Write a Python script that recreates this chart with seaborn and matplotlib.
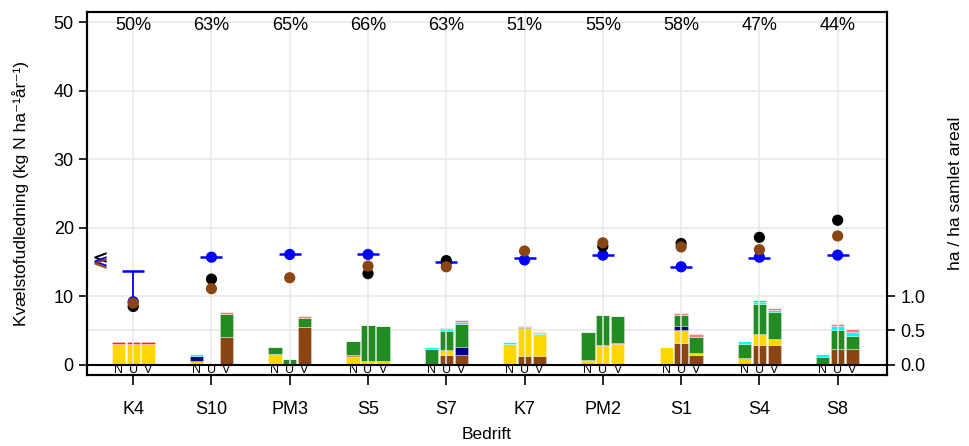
import numpy as np
import pandas as pd
import seaborn as sns
import matplotlib
matplotlib.use('Agg')
import matplotlib.pyplot as plt

# Farms and the three bars per farm
farms = ['K4', 'S10', 'PM3', 'S5', 'S7', 'K7', 'PM2', 'S1', 'S4', 'S8']
subcats = ['N', 'U', 'V']
shares = ['50%', '63%', '65%', '66%', '63%', '51%', '55%', '58%', '47%', '44%']

# Stacked bar layers (ha / ha samlet areal), order: farm x (N, U, V)
brown_layer = [0, 0, 0,  0, 0, 0.40,  0, 0, 0.55,  0, 0, 0,  0, 0.145, 0.145,
               0, 0.13, 0.13,  0, 0, 0,  0, 0.315, 0.145,  0, 0.29, 0.29,  0, 0.235, 0.235]
yellow_layer = [0.30, 0.30, 0.30,  0.05, 0, 0,  0.15, 0, 0,  0.12, 0.06, 0.06,  0, 0.07, 0,
                0.305, 0.40, 0.315,  0.06, 0.28, 0.30,  0.26, 0.185, 0.02,  0.10, 0.165, 0.09,  0, 0, 0]
pink_layer = [0, 0, 0,  0, 0, 0,  0.01, 0, 0,  0.02, 0, 0,  0, 0, 0,
              0, 0, 0,  0.01, 0.015, 0.015,  0, 0, 0,  0, 0, 0,  0, 0, 0]
navy_layer = [0, 0, 0,  0.08, 0, 0,  0, 0, 0,  0, 0, 0,  0, 0, 0.107,
              0, 0, 0,  0, 0, 0,  0, 0.06, 0,  0, 0, 0,  0, 0, 0]
green_layer = [0, 0, 0,  0, 0, 0.34,  0.10, 0.08, 0.135,  0.20, 0.525, 0.51,  0.23, 0.28, 0.345,
               0, 0.02, 0.01,  0.41, 0.43, 0.40,  0, 0.16, 0.245,  0.20, 0.43, 0.385,  0.115, 0.27, 0.19]
cyan_layer = [0, 0, 0,  0.03, 0.01, 0,  0, 0, 0,  0, 0, 0,  0.025, 0.02, 0.025,
              0.025, 0, 0.01,  0, 0, 0,  0, 0, 0,  0.04, 0.035, 0.04,  0.04, 0.06, 0.055]
spring_layer = [0, 0, 0,  0, 0, 0,  0, 0, 0,  0, 0, 0,  0, 0, 0,
                0, 0, 0,  0, 0, 0,  0, 0, 0,  0, 0.02, 0,  0, 0, 0]
salmon_layer = [0, 0, 0,  0, 0, 0.03,  0, 0, 0.03,  0, 0, 0,  0, 0.02, 0.025,
                0, 0.02, 0.02,  0, 0, 0,  0, 0.035, 0.035,  0, 0, 0.02,  0, 0.025, 0.035]
red_layer = [0.025, 0.025, 0.025,  0, 0, 0,  0, 0, 0,  0, 0, 0,  0, 0, 0,
             0, 0, 0,  0, 0, 0,  0, 0, 0,  0, 0, 0,  0, 0, 0]

# Point values (kg N / ha / yr)
black_pts = [8.5, 12.5, np.nan, 13.3, 15.2, np.nan, 17.3, 17.7, 18.6, 21.1]
brown_pts = [9.0, 11.1, 12.7, 14.4, 14.3, 16.6, 17.8, 17.2, 16.8, 18.8]
blue_pts = [9.2, 15.7, 16.1, 16.1, 14.9, 15.3, 16.0, 14.3, 15.7, 16.0]
blue_dash = [13.7, 15.8, 16.1, 16.1, 15.0, 15.6, 16.0, 14.3, 15.6, 16.0]

# off-scale chevrons on the left edge
chevron_y = [15.7, 15.2, 14.9]
chevron_cols = ['black', 'blue', '#8B4513']

layers = [
    (brown_layer, '#8B4513'),
    (yellow_layer, '#FFD700'),
    (pink_layer, '#F08080'),
    (navy_layer, '#00008B'),
    (green_layer, '#228B22'),
    (cyan_layer, '#00FFFF'),
    (spring_layer, '#00EE76'),
    (salmon_layer, '#F08080'),
    (red_layer, '#FF2020'),
]

sns.set_style('whitegrid')
plt.rcParams['font.family'] = ['Liberation Sans', 'DejaVu Sans']
plt.rcParams['text.color'] = 'black'
plt.rcParams['axes.labelcolor'] = 'black'
plt.rcParams['xtick.color'] = 'black'
plt.rcParams['ytick.color'] = 'black'

fig = plt.figure(figsize=(9.7, 4.46), dpi=100)
ax = fig.add_axes([0.0897, 0.1592, 0.8247, 0.8139])
ax2 = ax.twinx()

xpos = np.arange(1, len(farms) + 1)
offsets = np.array([-0.19, 0, 0.19])
bar_x = (xpos[:, None] + offsets[None, :]).ravel()

# bars on the right axis
bottom = np.zeros(len(bar_x))
for vals, col in layers:
    vals = np.array(vals, dtype=float)
    ax2.bar(bar_x, vals, width=0.17, bottom=bottom, color=col,
            edgecolor=(1, 1, 1, 0.35), linewidth=0.6, zorder=2)
    bottom += vals

# points on the left axis
pts = pd.DataFrame({'x': xpos, 'black': black_pts, 'brown': brown_pts,
                    'blue': blue_pts, 'dash': blue_dash})
ax2.set_zorder(1)
ax.set_zorder(2)
ax.patch.set_visible(False)

ax.vlines(pts['x'], pts['blue'], pts['dash'], color='blue', lw=1.3, zorder=3)
ax.scatter(pts['x'], pts['dash'], marker='_', s=230, color='blue', linewidths=1.8, zorder=3)
sns.scatterplot(data=pts, x='x', y='blue', color='blue', s=65, edgecolor='none', ax=ax, zorder=4)
sns.scatterplot(data=pts, x='x', y='black', color='black', s=65, edgecolor='none', ax=ax, zorder=5)
sns.scatterplot(data=pts, x='x', y='brown', color='#8B4513', s=65, edgecolor='none', ax=ax, zorder=6)

for yv, col in zip(chevron_y, chevron_cols):
    ax.scatter([0.58], [yv], marker=r'$<$', s=70, color=col, linewidths=0.3, zorder=6)

ax.axhline(0, color='black', lw=1.5, zorder=3)

for i, s in enumerate(shares):
    ax.text(xpos[i], 49.5, s, ha='center', va='center', fontsize=13)

for xb, lab in zip(bar_x, subcats * len(farms)):
    ax.text(xb, -0.7, lab, ha='center', va='center', fontsize=9)

ax.set_xlim(0.41, 10.63)
ax.set_ylim(-1.5, 51.5)
ax2.set_ylim(-0.15, 5.15)
ax.set_yticks([0, 10, 20, 30, 40, 50])
ax2.set_yticks([0, 0.5, 1.0])
ax2.set_yticklabels(['0.0', '0.5', '1.0'])
ax.set_xticks(xpos)
ax.set_xticklabels(farms)

ax.grid(True, color='#e8e8e8', lw=1.1)
ax2.grid(False)
ax2.axhline(0.5, color='#e8e8e8', lw=1.1, zorder=0)

for a in (ax, ax2):
    for sp in a.spines.values():
        sp.set_color('black')
        sp.set_linewidth(1.5)
ax.tick_params(axis='both', length=6, width=1.2, color='black', labelsize=13, direction='out')
ax.tick_params(axis='x', length=7, pad=12)
ax2.tick_params(axis='y', length=6, width=1.2, color='black', labelsize=13, direction='out')
ax.yaxis.set_ticks_position('left')
ax.xaxis.set_ticks_position('bottom')

ax.set_xlabel('Bedrift', fontsize=12.5, labelpad=6)
ax.set_ylabel('Kvælstofudledning (kg N ha⁻¹år⁻¹)', fontsize=12.5, labelpad=18)
ax2.set_ylabel('ha / ha samlet areal', fontsize=12.5, labelpad=16)

fig.savefig('out.png', dpi=100)
